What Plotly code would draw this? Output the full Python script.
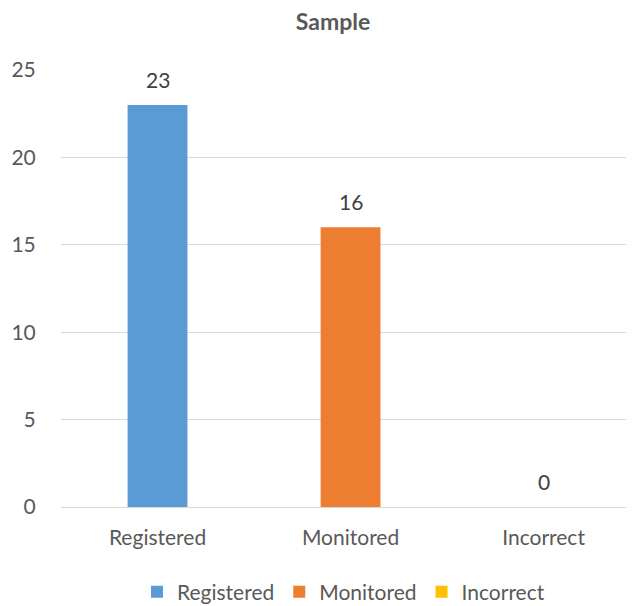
import plotly.graph_objects as go

categories = ["Registered", "Monitored", "Incorrect"]
values = [23, 16, 0]
colors = ["#5B9BD5", "#ED7D31", "#FFC000"]
y_ticks = [0, 5, 10, 15, 20, 25]

FONT = "Lato, 'Open Sans', sans-serif"
TEXT = "#595959"

fig = go.Figure()
for cat, val, col in zip(categories, values, colors):
    fig.add_trace(go.Bar(
        x=[cat], y=[val], name=cat,
        marker=dict(color=col, line=dict(width=0)),
        width=0.31,
    ))
    # value label sitting above each bar
    fig.add_annotation(
        x=cat, y=val, text=str(val), showarrow=False,
        yanchor="bottom", yshift=11,
        font=dict(family=FONT, size=21, color="#404040"),
    )

fig.update_layout(
    width=632, height=606,
    margin=dict(l=61, r=6, t=70, b=99, autoexpand=False),
    paper_bgcolor="white", plot_bgcolor="white",
    barmode="overlay",
    title=dict(text="<b>Sample</b>", x=0.527, xanchor="center", y=0.963, yanchor="middle",
               font=dict(family=FONT, size=23, color=TEXT)),
    font=dict(family=FONT, color=TEXT),
    showlegend=True,
    legend=dict(orientation="h", x=0.5, xanchor="center",
                yref="container", y=0.023, yanchor="middle",
                font=dict(family=FONT, size=21, color=TEXT),
                itemwidth=30, tracegroupgap=0),
    xaxis=dict(
        categoryorder="array", categoryarray=categories,
        range=[-0.5, 2.427],
        showgrid=False, zeroline=False,
        showline=True, linecolor="#D9D9D9", linewidth=1,
        ticks="outside", ticklen=12, tickcolor="rgba(0,0,0,0)",
        tickfont=dict(family=FONT, size=21, color=TEXT),
    ),
    yaxis=dict(
        range=[0, 25], tickvals=y_ticks,
        showgrid=True, gridcolor="#D9D9D9", gridwidth=1,
        zeroline=False, showline=False,
        ticks="outside", ticklen=20, tickcolor="rgba(0,0,0,0)",
        tickfont=dict(family=FONT, size=21, color=TEXT),
    ),
)

fig.write_html("out.html")
